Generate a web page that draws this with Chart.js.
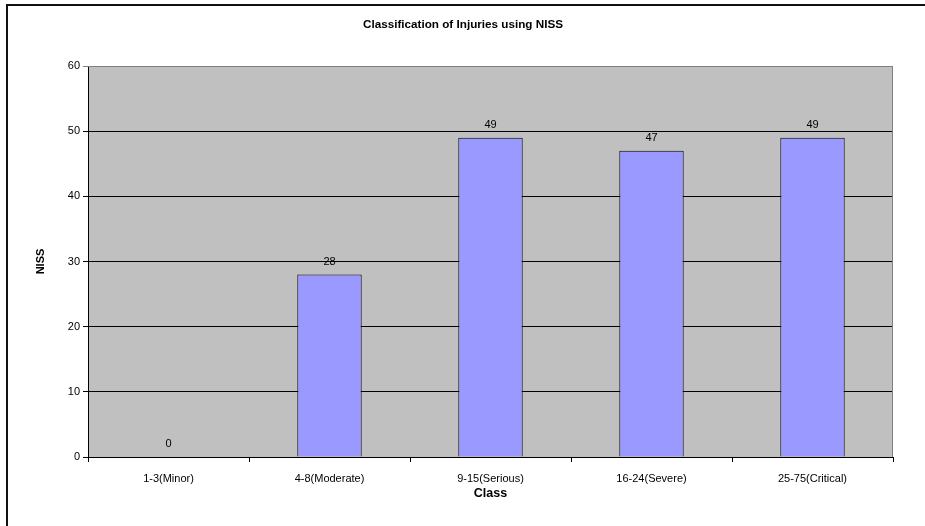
<!DOCTYPE html>
<html>
<head>
<meta charset="utf-8">
<script src="https://cdn.jsdelivr.net/npm/chart.js@4.4.1/dist/chart.umd.min.js"></script>
<style>
  html, body { margin: 0; padding: 0; background: #fff; overflow: hidden; }
  #wrap { position: relative; width: 925px; height: 526px; }
  #frame { position: absolute; left: 6px; top: 4px; width: 1000px; height: 1000px;
           border-left: 2px solid #111; border-top: 2px solid #111; pointer-events: none; }
  canvas { position: absolute; left: 0; top: 0; }
</style>
</head>
<body>
<div id="wrap">
  <canvas id="c" width="925" height="526"></canvas>
  <div id="frame"></div>
</div>
<script>
const categories = ["1-3(Minor)", "4-8(Moderate)", "9-15(Serious)", "16-24(Severe)", "25-75(Critical)"];
const nissValues = [0, 28, 49, 47, 49];
const yTicks = [0, 10, 20, 30, 40, 50, 60];
const chartTitle = "Classification of Injuries using NISS";
const xTitle = "Class";
const yTitle = "NISS";

const FONT = "'Liberation Sans', Arial, sans-serif";

const plotBg = {
  id: 'plotBg',
  beforeDraw(chart) {
    const {ctx, chartArea: a} = chart;
    ctx.save();
    ctx.fillStyle = '#C0C0C0';
    ctx.fillRect(a.left, a.top, a.right - a.left, a.bottom - a.top);
    ctx.restore();
  },
  afterDatasetsDraw(chart) {
    const {ctx, chartArea: a} = chart;
    ctx.save();
    ctx.strokeStyle = '#808080';
    ctx.lineWidth = 1;
    ctx.beginPath();
    ctx.moveTo(a.left, a.top + 0.5);
    ctx.lineTo(a.right - 0.5, a.top + 0.5);
    ctx.lineTo(a.right - 0.5, a.bottom);
    ctx.stroke();
    const meta = chart.getDatasetMeta(0);
    ctx.fillStyle = '#000';
    ctx.font = "11px " + FONT;
    ctx.textAlign = 'center';
    ctx.textBaseline = 'middle';
    meta.data.forEach((bar, i) => {
      ctx.fillText(String(nissValues[i]), bar.x, bar.y - 13);
    });
    // chart title, centred on the whole chart object
    ctx.font = "bold 11.7px " + FONT;
    ctx.fillText(chartTitle, 463, 25);
    ctx.restore();
  }
};

new Chart(document.getElementById('c'), {
  type: 'bar',
  data: {
    labels: categories,
    datasets: [{
      data: nissValues,
      backgroundColor: '#9999FF',
      borderColor: '#000000',
      borderWidth: 1,
      categoryPercentage: 1.0,
      barPercentage: 0.4
    }]
  },
  options: {
    responsive: false,
    animation: false,
    devicePixelRatio: 1,
    layout: { padding: { left: 0, right: 32, top: 66, bottom: 24 } },
    plugins: {
      legend: { display: false },
      tooltip: { enabled: false },
      title: { display: false }
    },
    scales: {
      x: {
        grid: { drawOnChartArea: false, drawTicks: true, tickLength: 5, color: '#000', lineWidth: 1 },
        border: { color: '#000', width: 1 },
        ticks: { color: '#000', font: { family: FONT, size: 11 }, padding: 10, maxRotation: 0, autoSkip: false },
        title: { display: true, text: xTitle, color: '#000',
                 font: { family: FONT, size: 12.5, weight: 'bold', lineHeight: 1.2 },
                 padding: { top: 0, bottom: 0.5 } },
        afterFit(scale) { scale.height = 45; }
      },
      y: {
        min: 0, max: 60,
        afterBuildTicks(scale) { scale.ticks = yTicks.map(v => ({ value: v })); },
        grid: {
          drawTicks: true, tickLength: 5, lineWidth: 1,
          color: (c) => (c.tick && c.tick.value === 60) ? '#808080' : '#000'
        },
        border: { color: '#000', width: 1 },
        ticks: { color: '#000', font: { family: FONT, size: 11 }, padding: 3 },
        title: { display: true, text: yTitle, color: '#000',
                 font: { family: FONT, size: 11, weight: 'bold', lineHeight: 1.2 },
                 padding: { top: 34, bottom: 0 } },
        afterFit(scale) { scale.width = 88; }
      }
    }
  },
  plugins: [plotBg]
});
</script>
</body>
</html>
